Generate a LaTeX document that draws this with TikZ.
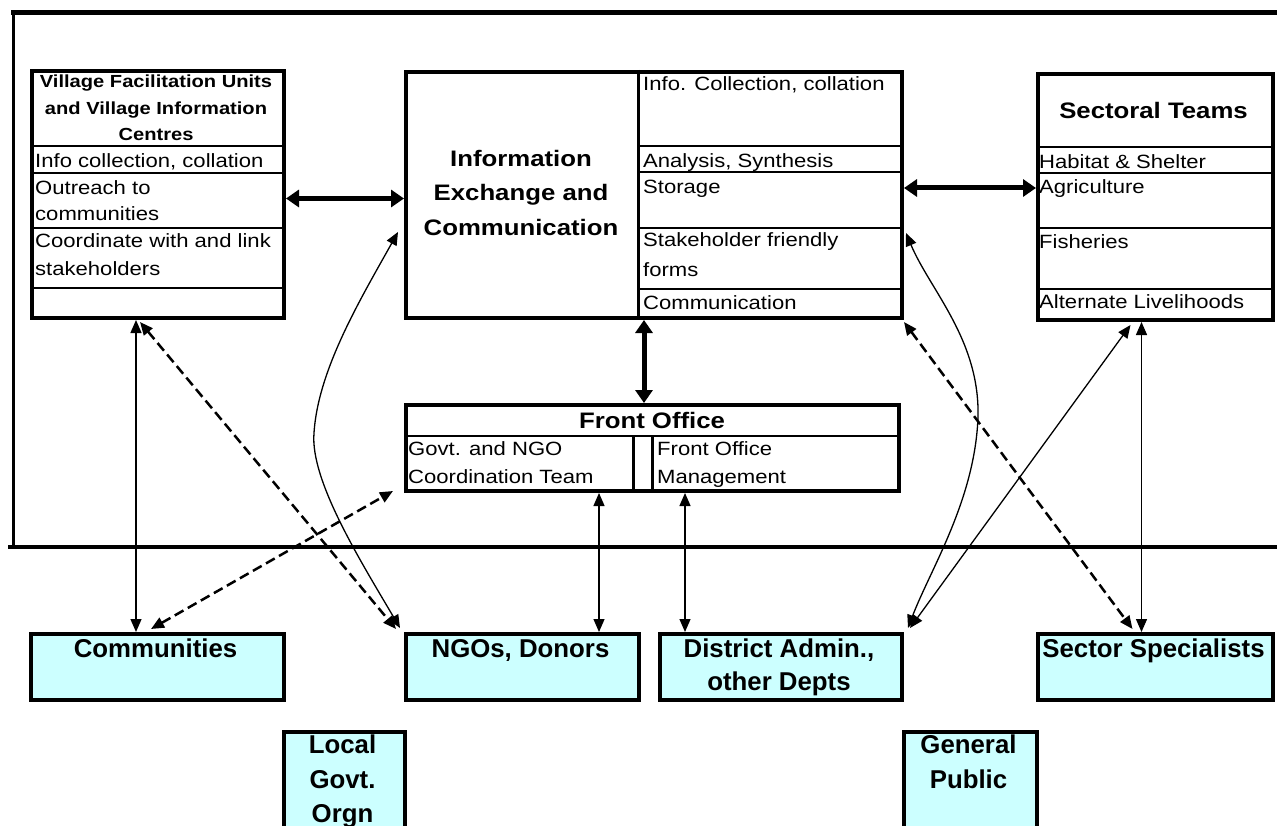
\documentclass[tikz,border=0pt]{standalone}
\usepackage{fontspec}
\setmainfont{Liberation Sans}[FakeStretch=1.15]
\newfontfamily\plainsans{Liberation Sans}
\usetikzlibrary{arrows.meta}
\definecolor{lightcyan}{HTML}{CCFFFF}
\newcommand\myBody{\fontsize{19.2}{30}\selectfont}
\newcommand\myHead{\bfseries\fontsize{22.4}{34}\selectfont}
\newcommand\myVfu{\bfseries\fontsize{17.5}{27}\selectfont}
\newcommand\myLow{\plainsans\bfseries\fontsize{25.8}{34}\selectfont}
\begin{document}
\begin{tikzpicture}[x=1pt,y=-1pt,
  box/.style={draw,line width=4pt,inner sep=0pt,anchor=north west,fill=white},
  lowbox/.style={box,fill=lightcyan},
  divider/.style={line width=2pt},
  bodytxt/.style={anchor=base west,inner sep=0pt,font=\myBody},
  headtxt/.style={anchor=base,inner sep=0pt,font=\myHead},
  vfutxt/.style={anchor=base,inner sep=0pt,font=\myVfu},
  lowtxt/.style={anchor=base,inner sep=0pt,font=\myLow},
  bigarrow/.style={line width=5pt,{Triangle[length=13pt,width=17pt]}-{Triangle[length=13pt,width=17pt]}},
  thinarrow/.style={line width=1.3pt,{Triangle[length=13pt,width=11pt]}-{Triangle[length=13pt,width=11pt]}},
  dasharrow/.style={line width=2.5pt,dash pattern=on 10pt off 5pt,{Triangle[length=13pt,width=11pt]}-{Triangle[length=13pt,width=11pt]}}
]
\useasboundingbox (0,0) rectangle (1277,826);
\fill[white] (0,0) rectangle (1277,826);

% outer frame
\draw[line width=5pt] (11,13) -- (1277,13);
\draw[line width=3pt] (13,13) -- (13,547);
\draw[line width=4.5pt] (8,547) -- (1277,547);

% ---------- Village Facilitation Units box
\node[box,minimum width=252pt,minimum height=247pt] (vfu) at (30,69) {};
\foreach \yy in {146,173,228,288} \draw[divider] (30,\yy) -- (282,\yy);
\node[vfutxt] (v1) at (156,88) {Village Facilitation Units};
\node[vfutxt] (v2) at (156,115) {and Village Information};
\node[vfutxt] (v3) at (156,141) {Centres};
\node[bodytxt] (v4) at (35,168) {Info collection, collation};
\node[bodytxt] (v5) at (35,194.5) {Outreach to};
\node[bodytxt] (v6) at (35,221) {communities};
\node[bodytxt] (v7) at (35,248) {Coordinate with and link};
\node[bodytxt] (v8) at (35,276) {stakeholders};

% ---------- Information Exchange box
\node[box,minimum width=496pt,minimum height=246pt] (iec) at (404,70) {};
\draw[line width=3pt] (638.5,70) -- (638.5,316);
\foreach \yy in {146.5,172.5,228,289} \draw[divider] (638.5,\yy) -- (900,\yy);
\node[headtxt] (i1) at (521,167) {Information};
\node[headtxt] (i2) at (521,201) {Exchange and};
\node[headtxt] (i3) at (521,236) {Communication};
\node[bodytxt] (i4) at (643,91) {Info. Collection, collation};
\node[bodytxt] (i5) at (643,168) {Analysis, Synthesis};
\node[bodytxt] (i6) at (643,194) {Storage};
\node[bodytxt] (i7) at (643,247) {Stakeholder friendly};
\node[bodytxt] (i8) at (643,277) {forms};
\node[bodytxt] (i9) at (643,310) {Communication};

% ---------- Sectoral Teams box
\node[box,minimum width=235pt,minimum height=246pt] (st) at (1036,72) {};
\foreach \yy in {147.5,173,228,289.5} \draw[divider] (1036,\yy) -- (1271,\yy);
\node[headtxt] (s1) at (1153.5,118.5) {Sectoral Teams};
\node[bodytxt] (s2) at (1039,168.5) {Habitat \& Shelter};
\node[bodytxt] (s3) at (1039,193.5) {Agriculture};
\node[bodytxt] (s4) at (1039,248.5) {Fisheries};
\node[bodytxt] (s5) at (1039,308.5) {Alternate Livelihoods};

% ---------- Front Office box
\node[box,minimum width=493pt,minimum height=86pt] (fo) at (404,403) {};
\draw[line width=2.5pt] (404,436) -- (897,436);
\draw[line width=3pt] (633.5,436) -- (633.5,489);
\draw[line width=3pt] (652.5,436) -- (652.5,489);
\node[headtxt] (f1) at (652,428.5) {Front Office};
\node[bodytxt] (f2) at (408,455) {Govt. and NGO};
\node[bodytxt] (f3) at (408,483) {Coordination Team};
\node[bodytxt] (f4) at (657,455) {Front Office};
\node[bodytxt] (f5) at (657,483) {Management};

% ---------- lower boxes
\node[lowbox,minimum width=253pt,minimum height=66pt] (comm) at (29,632) {};
\node[lowtxt] (c1) at (155.5,657) {Communities};
\node[lowbox,minimum width=233pt,minimum height=66pt] (ngo) at (404,632) {};
\node[lowtxt] (n1) at (520.5,657) {NGOs, Donors};
\node[lowbox,minimum width=242pt,minimum height=66pt] (dist) at (658,632) {};
\node[lowtxt] (d1) at (779,657) {District Admin.,};
\node[lowtxt] (d2) at (779,690) {other Depts};
\node[lowbox,minimum width=235pt,minimum height=66pt] (spec) at (1036,632) {};
\node[lowtxt] (p1) at (1153.5,657) {Sector Specialists};
\node[lowbox,minimum width=121pt,minimum height=110pt] (lgo) at (282,730) {};
\node[lowtxt] (l1) at (342.5,753) {Local};
\node[lowtxt] (l2) at (342.5,788) {Govt.};
\node[lowtxt] (l3) at (342.5,822) {Orgn};
\node[lowbox,minimum width=133pt,minimum height=110pt] (gp) at (902,730) {};
\node[lowtxt] (g1) at (968.5,753) {General};
\node[lowtxt] (g2) at (968.5,788) {Public};

% ---------- connectors
\coordinate (a1) at ([yshift=-4pt]vfu.east);
\draw[bigarrow] (a1) -- (a1 -| iec.west);
\coordinate (a2) at ([yshift=7pt]iec.east);
\draw[bigarrow] (a2) -- (a2 -| st.west);
\coordinate (a3) at ([xshift=-10pt]iec.south);
\draw[bigarrow] (a3) -- (a3 |- fo.north);

\coordinate (a4) at ([xshift=107pt]comm.north west);
\draw[thinarrow] (a4 |- vfu.south) -- (a4);
\coordinate (a11) at ([xshift=-14pt]st.south);
\draw[thinarrow] (a11) -- (a11 |- spec.north);
\coordinate (a12) at ([xshift=-53.5pt]fo.south);
\draw[thinarrow] (a12) -- (a12 |- ngo.north);
\coordinate (a13) at ([xshift=32.5pt]fo.south);
\draw[thinarrow] (a13) -- (a13 |- dist.north);

\draw[dasharrow] ([xshift=110pt,yshift=-2pt]vfu.south west) -- ([xshift=-8pt,yshift=3pt]ngo.north west);
\draw[dasharrow] ([xshift=122pt,yshift=3pt]comm.north west) -- ([xshift=-11pt,yshift=2pt]fo.south west);
\draw[dasharrow] ([yshift=-2pt]iec.south east) -- ([xshift=-23pt,yshift=3pt]spec.north);

\draw[thinarrow] ([xshift=-4pt,yshift=4pt]ngo.north west) .. controls (360,560) and (310,480) .. (314,433)
   .. controls (318,370) and (360,300) .. ([xshift=-6pt,yshift=-37pt]iec.west);
\draw[thinarrow] ([xshift=4pt,yshift=4pt]dist.north east) .. controls (930,570) and (975,500) .. (978,417)
   .. controls (980,340) and (930,290) .. ([xshift=2pt,yshift=-38pt]iec.east);
\draw[thinarrow] ([xshift=6pt,yshift=4pt]dist.north east) -- ([xshift=-25pt,yshift=-3pt]st.south);
\end{tikzpicture}
\end{document}
